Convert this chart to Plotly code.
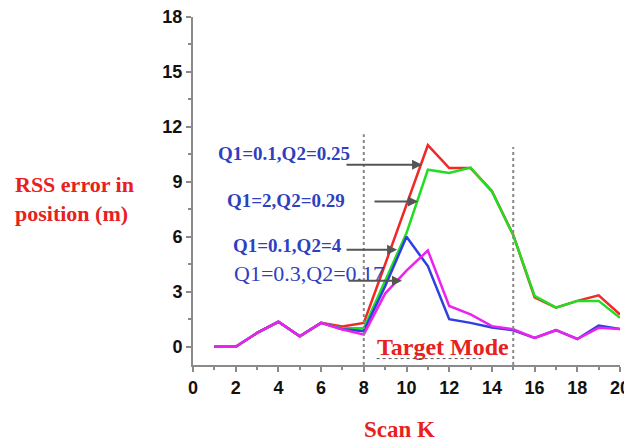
import plotly.graph_objects as go

scan_k = list(range(1, 21))
q_red = [0, 0, 0.75, 1.36, 0.57, 1.3, 1.1, 1.3, 4.5, 7.8, 11.0, 9.75, 9.75, 8.5, 6.1, 2.7, 2.13, 2.5, 2.8, 1.76]
q_green = [0, 0, 0.75, 1.36, 0.57, 1.3, 1.0, 1.0, 3.6, 6.2, 9.66, 9.48, 9.78, 8.47, 6.08, 2.77, 2.13, 2.5, 2.5, 1.58]
q_blue = [0, 0, 0.75, 1.36, 0.57, 1.3, 0.95, 0.85, 3.3, 6.0, 4.4, 1.5, 1.3, 1.05, 0.9, 0.48, 0.9, 0.42, 1.16, 0.97]
q_magenta = [0, 0, 0.75, 1.36, 0.57, 1.3, 0.94, 0.66, 2.9, 4.15, 5.25, 2.22, 1.76, 1.12, 0.95, 0.48, 0.9, 0.42, 1.03, 0.97]

x_ticks = list(range(0, 21, 2))
y_ticks = list(range(0, 19, 3))

series = [
    ("Q1=0.1,Q2=0.25", q_red, "#f02828"),
    ("Q1=2,Q2=0.29", q_green, "#22dd22"),
    ("Q1=0.1,Q2=4", q_blue, "#2f3fe0"),
    ("Q1=0.3,Q2=0.17", q_magenta, "#ee22ee"),
]

fig = go.Figure()
for name, vals, col in series:
    fig.add_trace(go.Scatter(x=scan_k, y=vals, mode="lines", name=name,
                             line=dict(color=col, width=2.5)))

# dotted vertical markers of the target mode window
fig.add_shape(type="line", x0=8, x1=8, y0=-1.0, y1=11.6, xref="x", yref="y",
              line=dict(color="#888888", width=2, dash="dot"))
fig.add_shape(type="line", x0=15, x1=15, y0=-1.0, y1=10.9, xref="x", yref="y",
              line=dict(color="#888888", width=2, dash="dot"))
fig.add_shape(type="line", x0=8.6, x1=13.5, y0=-0.65, y1=-0.65, xref="x", yref="y",
              line=dict(color="#555555", width=1, dash="dot"))

blue_txt = "#2f3fbf"
serif = "Liberation Serif"
labels = [
    ("<b>Q1=0.1,Q2=0.25</b>", 4.26, 10.55, 19),
    ("<b>Q1=2,Q2=0.29</b>", 4.36, 7.98, 19),
    ("<b>Q1=0.1,Q2=4</b>", 4.43, 5.52, 19),
    ("Q1=0.3,Q2=0.17", 5.41, 4.0, 22),
]
for txt, xx, yy, sz in labels:
    fig.add_annotation(x=xx, y=yy, xref="x", yref="y", text=txt, showarrow=False,
                       font=dict(family=serif, size=sz, color=blue_txt))

arrows = [(7.12, 10.73, 9.93), (8.43, 10.54, 7.92), (7.12, 9.56, 5.29), (7.21, 9.79, 3.6)]
for x_tail, x_head, yy in arrows:
    fig.add_annotation(x=x_head, y=yy, ax=x_tail, ay=yy, xref="x", yref="y",
                       axref="x", ayref="y", text="", showarrow=True,
                       arrowhead=2, arrowsize=1, arrowwidth=2, arrowcolor="#555555")

red_txt = "#e82020"
fig.add_annotation(x=11.7, y=0.0, xref="x", yref="y", text="<b>Target Mode</b>",
                   showarrow=False, font=dict(family=serif, size=24, color=red_txt))

# page layout (the page body adds an 8 px offset)
OFF = 8
W, H = 624, 440
L, R, T, B = 185, 12, 9, 83
PW, PH = W - L - R, H - T - B


def px_x(p):
    return (p - OFF - L) / PW


def px_y(p):
    return 1 - (p - OFF - T) / PH


fig.add_annotation(x=px_x(399), y=px_y(430), xref="paper", yref="paper",
                   xanchor="center", yanchor="middle", text="<b>Scan K</b>",
                   showarrow=False, font=dict(family=serif, size=23, color=red_txt))
fig.add_annotation(x=px_x(74), y=px_y(199), xref="paper", yref="paper",
                   xanchor="center", yanchor="middle",
                   text="<b>RSS error in<br>position (m)</b>", align="left",
                   showarrow=False, font=dict(family=serif, size=22, color=red_txt))

axis_common = dict(showline=True, linecolor="#8a8a8a", linewidth=2, ticks="outside",
                   ticklen=5, tickwidth=2, tickcolor="#8a8a8a", showgrid=False,
                   zeroline=False, ticklabeloverflow="allow", automargin=False,
                   tickfont=dict(family="Liberation Sans", size=18, color="#111111", weight="bold"))
fig.update_xaxes(range=[0, 20], tickvals=x_ticks, ticktext=[str(v) for v in x_ticks],
                 minor=dict(dtick=1, ticks="outside", ticklen=3, tickcolor="#8a8a8a"),
                 **axis_common)
fig.update_yaxes(range=[-1.0, 18], tickvals=y_ticks, ticktext=[str(v) for v in y_ticks],
                 minor=dict(dtick=1.5, tick0=0, ticks="outside", ticklen=3, tickcolor="#8a8a8a"),
                 **axis_common)

fig.update_layout(width=W, height=H, margin=dict(l=L, r=R, t=T, b=B),
                  plot_bgcolor="white", paper_bgcolor="white", showlegend=False)

fig.write_html("out.html")
